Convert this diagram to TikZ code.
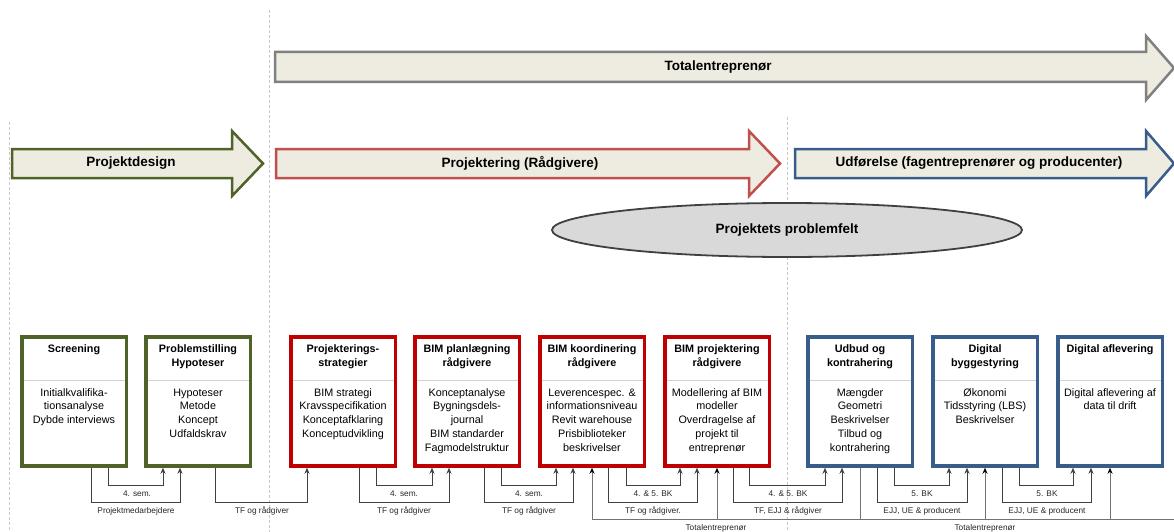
\documentclass[tikz,border=0pt]{standalone}
\usepackage{fontspec}
\setmainfont{Liberation Sans}
\usetikzlibrary{arrows.meta,shapes.geometric,calc}
\definecolor{olv}{RGB}{79,98,40}
\definecolor{rdb}{RGB}{192,0,0}
\definecolor{rda}{RGB}{192,80,77}
\definecolor{blb}{RGB}{56,93,138}
\definecolor{phfill}{RGB}{238,236,225}
\definecolor{ellf}{RGB}{217,217,217}
\definecolor{ello}{RGB}{64,64,64}
\definecolor{grya}{RGB}{128,128,128}
\definecolor{dashc}{RGB}{200,200,200}
\definecolor{divc}{RGB}{210,210,210}
\newcommand{\hop}[5]{\draw[conn] ([xshift=#2]#1.south) -- ([xshift=#2]#1.south |- #5) -| ([xshift=#4]#3.south);}
\begin{document}
\begin{tikzpicture}[x=1pt,y=-1pt,
  phase/.style={draw=#1,fill=phfill,line width=2.5pt,line join=miter},
  phasetext/.style={font=\fontsize{13.5}{16}\selectfont\bfseries,inner sep=0pt},
  card/.style={draw=#1,line width=3.5pt,fill=white,minimum width=104.5pt,minimum height=129pt,inner sep=0pt},
  cardtitle/.style={anchor=north,align=center,inner sep=0pt,font=\fontsize{10.8}{14}\selectfont\bfseries},
  cardbody/.style={anchor=north,align=center,inner sep=0pt,font=\fontsize{10.8}{13.8}\selectfont},
  divider/.style={draw=divc,line width=1pt},
  guide/.style={draw=dashc,line width=0.8pt,dash pattern=on 3pt off 2pt},
  conn/.style={draw=black!75,line width=0.7pt,-{Stealth[length=6pt,width=5pt]}},
  tline/.style={draw=black!55,line width=0.8pt},
  tconn/.style={draw=black!55,line width=0.8pt,-{Stealth[length=6pt,width=5pt,color=black]}},
  lbl/.style={inner sep=0pt,font=\fontsize{8.3}{10}\selectfont,text=black!85},
]
\useasboundingbox (0,0) rectangle (1174,532);
% guides
\draw[guide] (9,122) -- (9,532);
\draw[guide] (269,10) -- (269,532);
\draw[guide] (787,117) -- (787,532);
% phase arrows
\draw[phase=grya] (275,52) -- (1146,52) -- (1146,36) -- (1174,68) -- (1146,100) -- (1146,82) -- (275,82) -- cycle;
\node[phasetext] (pt0) at (718,67.5) {Totalentreprenør};
\draw[phase=olv] (12,149) -- (232,149) -- (232,131) -- (263,163.5) -- (232,196) -- (232,178) -- (12,178) -- cycle;
\node[phasetext] (pt1) at (131,163.5) {Projektdesign};
\draw[phase=rda] (276,149) -- (749,149) -- (749,131) -- (780,163.5) -- (749,196) -- (749,178) -- (276,178) -- cycle;
\node[phasetext] (pt2) at (520,163.5) {Projektering (Rådgivere)};
\draw[phase=blb] (795,149) -- (1146,149) -- (1146,131) -- (1174,163.5) -- (1146,196) -- (1146,178) -- (795,178) -- cycle;
\node[phasetext] (pt3) at (979,163.5) {Udførelse (fagentreprenører og producenter)};
% ellipse
\node[ellipse,draw=ello,fill=ellf,line width=1.8pt,minimum width=470pt,minimum height=54pt,inner sep=0pt,font=\fontsize{13.5}{16}\selectfont\bfseries] (pf) at (787,230) {Projektets problemfelt};
% cards
\foreach \n/\x/\c in {b1/74/olv,b2/198/olv,b3/343/rdb,b4/467/rdb,b5/592/rdb,b6/717/rdb,b7/860/blb,b8/985/blb,b9/1110/blb}{
  \node[card=\c] (\n) at (\x,401.5) {};
  \draw[divider] ([xshift=3.5pt,yshift=-45pt]\n.north west) -- ([xshift=-3.5pt,yshift=-45pt]\n.north east);
}
\node[cardtitle] (b1t) at ([yshift=-7pt]b1.north) {\strut Screening};
\node[cardbody] (b1b) at ([yshift=-51pt]b1.north) {\strut Initialkvalifika-\\tionsanalyse\\Dybde interviews};
\node[cardtitle] (b2t) at ([yshift=-7pt]b2.north) {\strut Problemstilling\\Hypoteser};
\node[cardbody] (b2b) at ([yshift=-51pt]b2.north) {\strut Hypoteser\\Metode\\Koncept\\Udfaldskrav};
\node[cardtitle] (b3t) at ([yshift=-7pt]b3.north) {\strut Projekterings-\\strategier};
\node[cardbody] (b3b) at ([yshift=-51pt]b3.north) {\strut BIM strategi\\Kravsspecifikation\\Konceptafklaring\\Konceptudvikling};
\node[cardtitle] (b4t) at ([yshift=-7pt]b4.north) {\strut BIM planlægning\\rådgivere};
\node[cardbody] (b4b) at ([yshift=-51pt]b4.north) {\strut Konceptanalyse\\Bygningsdels-\\journal\\BIM standarder\\Fagmodelstruktur};
\node[cardtitle] (b5t) at ([yshift=-7pt]b5.north) {\strut BIM koordinering\\rådgivere};
\node[cardbody] (b5b) at ([yshift=-51pt]b5.north) {\strut Leverencespec. \&\\informationsniveau\\Revit warehouse\\Prisbiblioteker\\beskrivelser};
\node[cardtitle] (b6t) at ([yshift=-7pt]b6.north) {\strut BIM projektering\\rådgivere};
\node[cardbody] (b6b) at ([yshift=-51pt]b6.north) {\strut Modellering af BIM\\modeller\\Overdragelse af\\projekt til\\entreprenør};
\node[cardtitle] (b7t) at ([yshift=-7pt]b7.north) {\strut Udbud og\\kontrahering};
\node[cardbody] (b7b) at ([yshift=-51pt]b7.north) {\strut Mængder\\Geometri\\Beskrivelser\\Tilbud og\\kontrahering};
\node[cardtitle] (b8t) at ([yshift=-7pt]b8.north) {\strut Digital\\byggestyring};
\node[cardbody] (b8b) at ([yshift=-51pt]b8.north) {\strut Økonomi\\Tidsstyring (LBS)\\Beskrivelser};
\node[cardtitle] (b9t) at ([yshift=-7pt]b9.north) {\strut Digital aflevering};
\node[cardbody] (b9b) at ([yshift=-51pt]b9.north) {\strut Digital aflevering af\\data til drift};
% levels
\coordinate (lA) at (0,485);
\coordinate (lB) at (0,502.5);
\coordinate (lT) at (0,519.5);
\coordinate (tEnd) at (1174,519.5);
% connectors
\hop{b1}{34pt}{b2}{-35pt}{lA}
\hop{b1}{17pt}{b2}{-18pt}{lB}
\hop{b2}{17pt}{b3}{-36pt}{lB}
\hop{b3}{33pt}{b4}{-35pt}{lA}
\hop{b3}{16pt}{b4}{-18pt}{lB}
\hop{b4}{34pt}{b5}{-36pt}{lA}
\hop{b4}{17pt}{b5}{-19pt}{lB}
\hop{b5}{34pt}{b6}{-37pt}{lA}
\hop{b5}{16pt}{b6}{-20pt}{lB}
\hop{b6}{32pt}{b7}{-35pt}{lA}
\hop{b6}{16pt}{b7}{-18pt}{lB}
\hop{b7}{34pt}{b8}{-36pt}{lA}
\hop{b7}{17pt}{b8}{-18pt}{lB}
\hop{b8}{34pt}{b9}{-37pt}{lA}
\hop{b8}{17pt}{b9}{-19pt}{lB}
% totalentreprenoer line
\draw[tline] (b7.south) -- (b7.south |- lT);
\draw[tline] (b5.south |- lT) -- (tEnd);
\draw[tconn] (b5.south |- lT) -- (b5.south);
\draw[tconn] (b6.south |- lT) -- (b6.south);
\draw[tconn] (b8.south |- lT) -- (b8.south);
\draw[tconn] (b9.south |- lT) -- (b9.south);
% labels
\node[lbl] (la1) at (137,494) {4. sem.};
\node[lbl] (lb1) at (136,511) {Projektmedarbejdere};
\node[lbl] (lb2) at (262,511) {TF og rådgiver};
\node[lbl] (la3) at (404,494) {4. sem.};
\node[lbl] (lb3) at (404,511) {TF og rådgiver};
\node[lbl] (la4) at (529,494) {4. sem.};
\node[lbl] (lb4) at (529,511) {TF og rådgiver};
\node[lbl] (la5) at (653,494) {4. \& 5. BK};
\node[lbl] (lb5) at (653,511) {TF og rådgiver.};
\node[lbl] (la6) at (788,494) {4. \& 5. BK};
\node[lbl] (lb6) at (788,511) {TF, EJJ \& rådgiver};
\node[lbl] (la7) at (922,494) {5. BK};
\node[lbl] (lb7) at (922,511) {EJJ, UE \& producent};
\node[lbl] (la8) at (1047,494) {5. BK};
\node[lbl] (lb8) at (1047,511) {EJJ, UE \& producent};
\node[lbl] (lt1) at (716,528) {Totalentreprenør};
\node[lbl] (lt2) at (985,528) {Totalentreprenør};
\end{tikzpicture}
\end{document}
